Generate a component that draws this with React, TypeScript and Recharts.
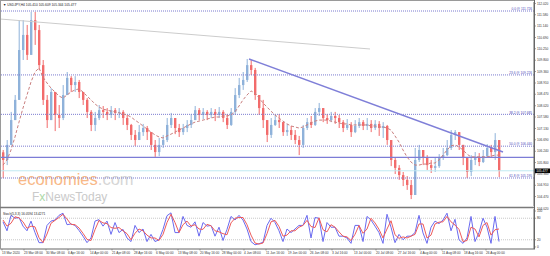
import React from 'react';
import { ComposedChart, Bar, Line, XAxis, YAxis, ReferenceLine } from 'recharts';

// H4 candles, sampled along the chart (open = previous close)
const closes = [
  105.9, 106.49, 107.46, 108.25, 110.2, 110.79, 110.01, 111.37, 110.98, 109.61,
  108.25, 107.46, 108.56, 107.66, 107.54, 108.44, 109.11, 108.83, 108.95, 108.56,
  108.25, 107.78, 107.27, 107.54, 107.85, 107.78, 107.66, 107.85, 107.74, 107.78,
  107.54, 107.27, 106.88, 106.68, 106.99, 107.15, 106.99, 106.49, 106.21, 106.49,
  106.68, 107.27, 107.54, 107.15, 106.99, 107.15, 107.27, 107.46, 107.85, 107.66,
  107.78, 107.66, 107.78, 107.66, 107.78, 107.54, 107.27, 107.78, 108.44, 108.83,
  109.03, 109.61, 109.42, 108.44, 107.93, 107.46, 106.88, 107.27, 107.46, 107.38,
  106.99, 107.07, 106.88, 106.68, 106.49, 107.15, 107.38, 107.27, 107.78, 107.93,
  107.54, 107.46, 107.62, 107.54, 107.38, 107.15, 107.27, 106.99, 107.23, 107.38,
  107.23, 107.31, 107.15, 107.31, 107.15, 107.23, 106.68, 105.9, 105.59, 105.31,
  105.12, 104.92, 104.53, 105.9, 106.29, 105.98, 105.7, 105.59, 105.66, 105.98,
  106.09, 106.37, 106.88, 106.99, 106.49, 105.98, 105.43, 105.9, 105.98, 105.82,
  106.05, 106.37, 106.21, 106.68, 105.48,
];
const highs = [
  106.29, 106.68, 107.78, 108.44, 111.37, 111.37, 111.18, 111.69, 111.69, 111.18,
  109.81, 108.44, 108.71, 108.44, 108.05, 108.83, 109.34, 109.18, 109.18, 109.03,
  108.56, 108.32, 107.85, 107.78, 108.05, 108.01, 107.93, 108.01, 107.93, 107.93,
  107.85, 107.66, 107.31, 107.07, 107.27, 107.31, 107.23, 106.99, 106.68, 106.76,
  106.88, 107.54, 107.74, 107.54, 107.31, 107.31, 107.46, 107.7, 108.01, 107.93,
  107.93, 107.85, 107.93, 107.89, 107.97, 107.85, 107.7, 107.93, 108.71, 109.11,
  109.34, 109.85, 109.81, 109.5, 108.44, 108.25, 107.38, 107.54, 107.66, 107.7,
  107.31, 107.31, 107.23, 107.07, 106.84, 107.27, 107.54, 107.62, 107.93, 108.13,
  107.93, 107.7, 107.78, 107.78, 107.66, 107.46, 107.5, 107.38, 107.46, 107.54,
  107.46, 107.54, 107.46, 107.46, 107.42, 107.38, 107.27, 106.68, 105.98, 105.7,
  105.43, 105.27, 105.12, 106.37, 106.49, 106.29, 106.09, 105.9, 105.98, 106.13,
  106.37, 106.68, 107.07, 107.07, 106.99, 106.49, 105.98, 106.09, 106.21, 106.17,
  106.29, 106.52, 106.49, 106.95, 106.68,
];
const lows = [
  105.19, 105.7, 106.68, 107.46, 108.44, 109.81, 109.81, 110.2, 110.4, 109.42,
  108.05, 107.15, 107.46, 107.03, 107.15, 107.46, 108.44, 108.56, 108.56, 108.32,
  108.05, 107.54, 107.03, 107.03, 107.46, 107.54, 107.46, 107.54, 107.46, 107.54,
  107.27, 107.07, 106.68, 106.45, 106.68, 106.84, 106.68, 106.29, 106.02, 106.05,
  106.37, 106.6, 107.15, 106.91, 106.8, 106.88, 106.99, 107.15, 107.46, 107.46,
  107.5, 107.46, 107.54, 107.42, 107.54, 107.38, 107.11, 107.23, 107.66, 108.32,
  108.64, 108.95, 109.22, 108.25, 107.66, 107.15, 106.6, 106.76, 107.23, 107.15,
  106.84, 106.84, 106.68, 106.52, 106.09, 106.37, 107.07, 107.15, 107.23, 107.62,
  107.38, 107.31, 107.38, 107.31, 107.15, 106.99, 107.07, 106.8, 106.95, 107.15,
  107.07, 107.07, 106.99, 107.07, 106.84, 106.76, 106.49, 105.66, 105.35, 105.12,
  104.88, 104.73, 104.37, 104.53, 105.82, 105.7, 105.51, 105.39, 105.43, 105.59,
  105.9, 106.05, 106.29, 106.68, 106.29, 105.7, 105.19, 105.27, 105.7, 105.66,
  105.78, 105.98, 105.98, 105.9, 105.23,
];
const firstOpen = 106.2;

// dashed moving average
const ma = [
  105.7, 105.9, 106.29, 106.8, 107.38, 107.93, 108.44, 108.95, 109.34, 109.5,
  109.14, 108.91, 108.71, 108.56, 108.4, 108.32, 108.44, 108.56, 108.64, 108.68,
  108.56, 108.4, 108.25, 108.09, 107.97, 107.89, 107.85, 107.81, 107.78, 107.74,
  107.7, 107.66, 107.58, 107.46, 107.35, 107.23, 107.11, 106.99, 106.88, 106.8,
  106.76, 106.84, 106.91, 106.99, 107.07, 107.15, 107.23, 107.31, 107.38, 107.42,
  107.46, 107.5, 107.54, 107.58, 107.58, 107.62, 107.62, 107.66, 107.78, 108.01,
  108.25, 108.44, 108.6, 108.52, 108.32, 108.13, 107.97, 107.81, 107.66, 107.54,
  107.42, 107.31, 107.23, 107.19, 107.15, 107.19, 107.27, 107.35, 107.42, 107.46,
  107.46, 107.46, 107.42, 107.38, 107.35, 107.31, 107.31, 107.27, 107.27, 107.27,
  107.27, 107.27, 107.23, 107.23, 107.19, 107.19, 107.15, 107.07, 106.84, 106.6,
  106.29, 106.02, 105.82, 105.7, 105.7, 105.74, 105.74, 105.78, 105.78, 105.9,
  106.09, 106.29, 106.45, 106.49, 106.41, 106.29, 106.13, 106.02, 106.02, 106.02,
  106.02, 106.02, 106.05, 106.09, 106.09,
];

// Stoch(5,3,3)
const stochK = [
  70, 45, 88, 80, 82, 58, 45, 72, 40, 12,
  12, 60, 72, 75, 88, 94, 62, 64, 60, 46,
  30, 12, 25, 72, 76, 58, 72, 35, 68, 40,
  49, 25, 15, 60, 40, 50, 15, 35, 15, 20,
  49, 87, 95, 40, 40, 85, 60, 55, 70, 30,
  68, 58, 60, 30, 55, 18, 49, 85, 75, 88,
  75, 50, 15, 6, 9, 13, 60, 80, 68, 45,
  15, 50, 40, 50, 60, 60, 88, 25, 82, 80,
  15, 68, 55, 55, 30, 30, 25, 10, 60, 60,
  15, 85, 75, 58, 40, 10, 91, 55, 12, 35,
  20, 30, 30, 40, 88, 39, 10, 55, 72, 65,
  75, 94, 45, 77, 20, 10, 25, 85, 15, 40,
  80, 55, 10, 85, 15,
];
const stochD = [
  75, 58, 66, 84, 81, 70, 52, 58, 56, 26,
  12, 36, 66, 74, 82, 91, 78, 63, 62, 53,
  38, 21, 18, 48, 74, 67, 65, 54, 52, 54,
  45, 37, 20, 38, 50, 45, 33, 25, 25, 18,
  35, 68, 91, 68, 40, 62, 72, 58, 62, 50,
  49, 63, 59, 45, 42, 37, 34, 67, 80, 82,
  82, 62, 33, 11, 8, 11, 37, 70, 74, 57,
  30, 33, 45, 45, 55, 60, 74, 57, 54, 81,
  48, 42, 62, 55, 42, 30, 28, 18, 35, 60,
  38, 50, 80, 67, 49, 25, 50, 73, 34, 24,
  28, 25, 30, 35, 64, 64, 25, 33, 64, 69,
  70, 85, 70, 61, 49, 15, 18, 55, 50, 28,
  60, 68, 33, 48, 50,
];

const priceTicks = [
  112.02, 111.58, 111.14, 110.69, 110.25, 109.8, 109.36, 108.91, 108.47,
  108.02, 107.58, 107.13, 106.69, 106.24, 105.8, 105.36, 104.91, 104.47,
];
const fibLevels = ['0.0', '23.6', '38.2', '50.0', '61.8'];
const fibPrices = [111.726, 109.226, 107.685, 106.44, 105.195];
const lastPrice = 105.477;
const supportPrice = 106.0;
const dateLabels = [
  '13 Mar 2020', '23 Mar 08:00', '30 Mar 08:00', '6 Apr 16:00', '14 Apr 00:00',
  '21 Apr 08:00', '28 Apr 16:00', '6 May 00:00', '13 May 08:00', '20 May 16:00',
  '28 May 00:00', '4 Jun 08:00', '11 Jun 16:00', '19 Jun 00:00', '26 Jun 08:00',
  '3 Jul 16:00', '13 Jul 00:00', '20 Jul 08:00', '27 Jul 16:00', '4 Aug 00:00',
  '11 Aug 08:00', '18 Aug 16:00', '26 Aug 00:00',
];
const stochTicks = [0, 20, 80, 100];

const FONT = '"Liberation Sans", Arial, sans-serif';
const BULL = '#8fb2da';
const BEAR = '#f26b6b';
const X_DOMAIN: [number, number] = [-0.5, 132.75];
const dateTicks = dateLabels.map((_, k) => -0.25 + 5.5 * k);

const data = closes.map((close, i) => {
  const open = i === 0 ? firstOpen : closes[i - 1];
  const high = Math.max(highs[i], open, close);
  const low = Math.min(lows[i], open, close);
  return { i, open, close, high, low, range: [low, high], ma: ma[i], k: stochK[i], d: stochD[i] };
});

const Candle = (props: any) => {
  const { x, y, width, height, payload } = props;
  if (!payload) return null;
  const { open, close, high, low } = payload;
  const top = Math.min(y, y + height);
  const h = Math.abs(height);
  const ppu = high > low ? h / (high - low) : 0;
  const color = close >= open ? BULL : BEAR;
  const bodyTop = top + (high - Math.max(open, close)) * ppu;
  const bodyH = Math.max(1, Math.abs(close - open) * ppu);
  const cx = x + width / 2;
  return (
    <g>
      <line x1={cx} x2={cx} y1={top} y2={top + h} stroke={color} strokeWidth={1} />
      <rect x={x} y={bodyTop} width={width} height={bodyH} fill={color} />
    </g>
  );
};

const PriceTick = ({ x, y, payload }: any) => (
  <text x={x + 1} y={y + 1.1} fontSize={3.2} fill="#333" fontFamily={FONT}>
    {Number(payload.value).toFixed(3)}
  </text>
);

const StochTick = ({ x, y, payload }: any) => (
  <text x={x + 1} y={y + 1.1} fontSize={3.2} fill="#333" fontFamily={FONT}>
    {payload.value}
  </text>
);

const DateTick = ({ x, y, payload }: any) => {
  const idx = dateTicks.indexOf(payload.value);
  return (
    <g>
      <line x1={x} x2={x} y1={y} y2={y + 1.5} stroke="#666" strokeWidth={0.6} />
      <text x={x} y={y + 4.6} fontSize={3.2} fill="#333" fontFamily={FONT}>
        {dateLabels[idx]}
      </text>
    </g>
  );
};

const FibText = ({ viewBox, text }: any) =>
  viewBox ? (
    <text
      x={viewBox.x + viewBox.width - 2}
      y={viewBox.y - 0.8}
      textAnchor="end"
      fontSize={3.2}
      fill="#4a4ab8"
      fontFamily={FONT}
    >
      {text}
    </text>
  ) : null;

const PriceTag = ({ viewBox }: any) =>
  viewBox ? (
    <g>
      <rect x={viewBox.x + viewBox.width + 1} y={viewBox.y - 2.3} width={15} height={4.6} fill="#000" />
      <text x={viewBox.x + viewBox.width + 2.2} y={viewBox.y + 1.1} fontSize={3.2} fill="#fff" fontFamily={FONT}>
        {lastPrice.toFixed(3)}
      </text>
    </g>
  ) : null;

export default function App() {
  return (
    <div style={{ position: 'absolute', left: 0, top: 0, width: 550, height: 256, background: '#fff', overflow: 'hidden' }}>
      {/* watermark */}
      <svg width={550} height={256} style={{ position: 'absolute', left: 0, top: 0 }}>
        <text x={18} y={185} fontSize={16.5} fontFamily={FONT} fill="#f8b887">
          economies<tspan fill="#d6d6d6">.com</tspan>
        </text>
        <text x={32} y={200.5} fontSize={12} fontFamily={FONT} fill="#cacaca">
          F<tspan fill="#acd8a6">x</tspan>NewsToday
        </text>
      </svg>

      <div style={{ position: 'absolute', left: 0, top: 0 }}>
        <ComposedChart width={550} height={207} data={data} margin={{ top: 2, right: 0, bottom: 1, left: 1 }}>
          <XAxis dataKey="i" type="number" domain={X_DOMAIN} allowDataOverflow hide />
          <YAxis
            orientation="right"
            width={16}
            type="number"
            domain={[104.1, 112.078]}
            allowDataOverflow
            ticks={priceTicks}
            interval={0}
            tick={<PriceTick />}
            tickSize={2}
            tickMargin={0}
            axisLine={{ stroke: '#666' }}
            tickLine={{ stroke: '#666', strokeWidth: 0.6 }}
          />
          {fibPrices.map((p, k) => (
            <ReferenceLine
              key={p}
              y={p}
              stroke="#7b7bd0"
              strokeDasharray="1 1"
              label={<FibText text={`${fibLevels[k]} @ ${p.toFixed(3)}`} />}
            />
          ))}
          <ReferenceLine y={supportPrice} stroke="#7c7cd6" strokeWidth={1.2} />
          <ReferenceLine y={lastPrice} stroke="#bfe9f2" label={<PriceTag />} />
          <ReferenceLine segment={[{ x: -0.5, y: 111.41 }, { x: 91.75, y: 110.24 }]} stroke="#cccccc" />
          <Bar dataKey="range" barSize={2.4} shape={<Candle />} isAnimationActive={false} />
          <Line dataKey="ma" type="linear" dot={false} stroke="#c97f7f" strokeWidth={1} strokeDasharray="3 2" isAnimationActive={false} />
          <ReferenceLine segment={[{ x: 61.5, y: 109.85 }, { x: 125, y: 106.21 }]} stroke="#7f7fd8" strokeWidth={1.5} />
        </ComposedChart>
      </div>

      <div style={{ position: 'absolute', left: 0, top: 207 }}>
        <ComposedChart width={550} height={49} data={data} margin={{ top: 2, right: 0, bottom: 0, left: 1 }}>
          <XAxis
            dataKey="i"
            type="number"
            domain={X_DOMAIN}
            allowDataOverflow
            ticks={dateTicks}
            interval={0}
            height={7}
            tick={<DateTick />}
            tickSize={0}
            tickMargin={0}
            axisLine={{ stroke: '#666' }}
          />
          <YAxis
            orientation="right"
            width={16}
            type="number"
            domain={[-5.7, 105.7]}
            allowDataOverflow
            ticks={stochTicks}
            interval={0}
            tick={<StochTick />}
            tickSize={2}
            tickMargin={0}
            axisLine={{ stroke: '#666' }}
            tickLine={{ stroke: '#666', strokeWidth: 0.6 }}
          />
          <ReferenceLine y={80} stroke="#c8c8c8" strokeDasharray="1 1" />
          <ReferenceLine y={20} stroke="#c8c8c8" strokeDasharray="1 1" />
          <Line dataKey="k" type="linear" dot={false} stroke="#6a6af0" strokeWidth={1} isAnimationActive={false} />
          <Line dataKey="d" type="linear" dot={false} stroke="#ee5b5b" strokeWidth={1} isAnimationActive={false} />
        </ComposedChart>
      </div>

      {/* frame and panel captions */}
      <svg width={550} height={256} style={{ position: 'absolute', left: 0, top: 0, pointerEvents: 'none' }}>
        <line x1={0} x2={534.5} y1={0.5} y2={0.5} stroke="#9a9a9a" />
        <line x1={0.5} x2={0.5} y1={0} y2={249.5} stroke="#9a9a9a" />
        <line x1={0} x2={534.5} y1={207.5} y2={207.5} stroke="#7a7a7a" strokeWidth={1.5} />
        <line x1={534.5} x2={534.5} y1={0} y2={249.5} stroke="#666" />
        <text x={3} y={5.5} fontSize={3.3} fill="#222" fontFamily={FONT}>
          ▼ USDJPY,H4 105.410 105.609 105.344 105.477
        </text>
        <text x={537} y={209.6} fontSize={3.2} fill="#333" fontFamily={FONT}>104.020</text>
        <text x={3} y={214.5} fontSize={3.2} fill="#222" fontFamily={FONT}>
          Stoch(5,3,3) 16.0594 13.4271
        </text>
      </svg>
    </div>
  );
}
